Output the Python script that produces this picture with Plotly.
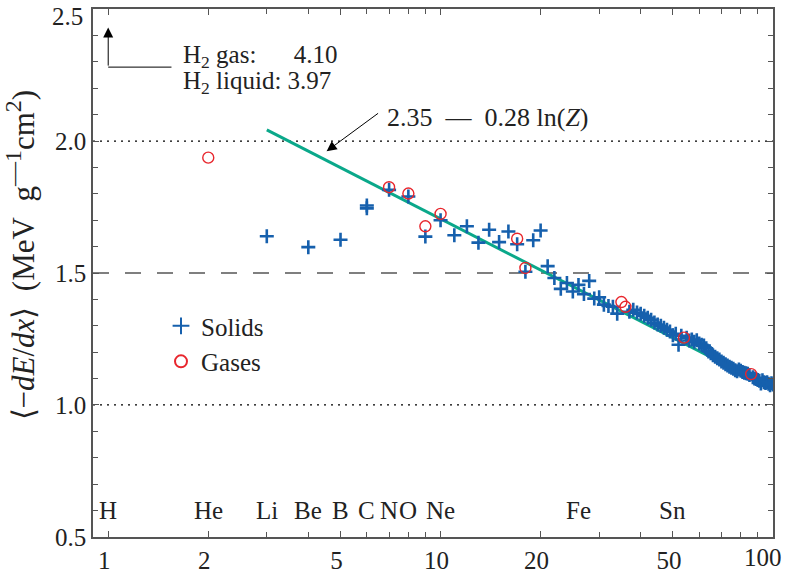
import numpy as np
import plotly.graph_objects as go

# ---- data ----
solid_z = [3, 4, 5, 6, 6, 7, 8, 9, 10, 11, 12, 13, 14, 15, 16, 17, 18, 19, 20,
           21, 22, 23, 24, 25, 26, 27, 28, 29, 30, 31, 32, 33, 34,
           37, 38, 39, 40, 41, 42, 43, 44, 45, 46, 47, 48, 49, 50, 51, 52, 53,
           55, 56, 57, 58, 59, 60, 61, 62, 63, 64, 65, 66, 67, 68, 69, 70,
           71, 72, 73, 74, 75, 76, 77, 78, 79, 80, 81, 82, 83, 84, 85,
           87, 88, 89, 90, 91, 92, 93, 94, 95, 96, 97, 98, 99, 100]
solid_v = [1.639, 1.598, 1.626, 1.745, 1.756, 1.815, 1.790, 1.638, 1.700, 1.643,
           1.677, 1.615, 1.664, 1.617, 1.657, 1.609, 1.505, 1.624, 1.661,
           1.526, 1.481, 1.440, 1.462, 1.430, 1.455, 1.420, 1.470, 1.403, 1.408,
           1.380, 1.375, 1.372, 1.346,
           1.353, 1.361, 1.350, 1.346, 1.338, 1.330, 1.323, 1.312, 1.305, 1.300,
           1.293, 1.285, 1.278, 1.264, 1.270, 1.228, 1.262,
           1.255, 1.244, 1.248, 1.240, 1.245, 1.233, 1.228, 1.225, 1.215, 1.203,
           1.196, 1.188, 1.183, 1.177, 1.172, 1.165,
           1.160, 1.154, 1.150, 1.145, 1.141, 1.137, 1.132, 1.128, 1.134, 1.130,
           1.125, 1.122, 1.120, 1.118, 1.114,
           1.105, 1.100, 1.098, 1.095, 1.092, 1.081, 1.094, 1.086, 1.083, 1.086,
           1.080, 1.075, 1.082, 1.078]

gas_z = [2, 7, 8, 9, 10, 17, 18, 35, 36, 54, 86]
gas_v = [1.937, 1.825, 1.801, 1.677, 1.724, 1.630, 1.519, 1.390, 1.372, 1.255, 1.117]

elem_names = ["H", "He", "Li", "Be", "B", "C", "N", "O", "Ne", "Fe", "Sn"]
elem_z = [1, 2, 3, 4, 5, 6, 7, 8, 10, 26, 50]

fit_a, fit_b = 2.35, 0.28
fit_z = [3, 100]

h2_gas, h2_liq = 4.10, 3.97

x_ticks = [1, 2, 5, 10, 20, 50, 100]
x_ticktext = ["1", "2", "5", "10", "20", "50", ""]
x_minor = [3, 4, 6, 7, 8, 9, 30, 40, 60, 70, 80, 90]
y_ticks = [0.5, 1.0, 1.5, 2.0, 2.5]
y_ticktext = ["0.5", "1.0", "1.5", "2.0", ""]

# ---- styles ----
FONT = "Liberation Serif"
BLUE = "#1660ad"
RED = "#e8262d"
GREEN = "#0aa88a"
AX = "#555555"
TXT = "#222222"
FS = 25

fig = go.Figure()

fit_v = [fit_a - fit_b * np.log(z) for z in fit_z]
fig.add_trace(go.Scatter(x=fit_z, y=fit_v, mode="lines",
                         line=dict(color=GREEN, width=3), showlegend=False,
                         hoverinfo="skip"))

fig.add_trace(go.Scatter(x=solid_z, y=solid_v, mode="markers", name="Solids",
                         marker=dict(symbol="cross-thin", size=10,
                                     line=dict(color=BLUE, width=2.6), color=BLUE)))
fig.add_trace(go.Scatter(x=gas_z, y=gas_v, mode="markers", name="Gases",
                         marker=dict(symbol="circle-open", size=11,
                                     line=dict(color=RED, width=1.4), color=RED)))

# connector line of the H2 arrow
fig.add_trace(go.Scatter(x=[1, 1.55], y=[2.28, 2.28], mode="lines",
                         line=dict(color="black", width=1), showlegend=False,
                         hoverinfo="skip"))

# reference lines
for yv, dash in [(2.0, "2px,5px"), (1.5, "16px,16px"), (1.0, "2px,5px")]:
    fig.add_shape(type="line", xref="paper", x0=0, x1=1, yref="y", y0=yv, y1=yv,
                  line=dict(color="black", width=1.2, dash=dash), layer="below")

ann = []
# element labels
for name, z in zip(elem_names, elem_z):
    ann.append(dict(x=np.log10(z), y=0.6, text=name, showarrow=False,
                    font=dict(family=FONT, size=FS, color=TXT),
                    xanchor="center", yanchor="middle"))
# end tick labels kept inside the page like the reference
ann.append(dict(xref="paper", x=-0.012, y=2.47, text="2.5", showarrow=False,
                xanchor="right", yanchor="middle",
                font=dict(family=FONT, size=FS, color=TXT)))
ann.append(dict(xref="paper", yref="paper", x=1.0165, y=-0.039, text="100",
                showarrow=False, xanchor="right", yanchor="middle",
                font=dict(family=FONT, size=FS, color=TXT)))
# H2 arrow
ann.append(dict(x=0, y=2.43, ax=0, ay=2.28, axref="x", ayref="y", text="",
                showarrow=True, arrowhead=2, arrowsize=2, arrowwidth=1,
                arrowcolor="black"))
ann.append(dict(x=np.log10(1.66), y=2.32, xanchor="left", yanchor="middle",
                showarrow=False,
                text="H<sub>2</sub> gas:\u00a0\u00a0\u00a0\u00a0\u00a0 %.2f" % h2_gas,
                font=dict(family=FONT, size=FS, color=TXT)))
ann.append(dict(x=np.log10(1.66), y=2.222, xanchor="left", yanchor="middle",
                showarrow=False,
                text="H<sub>2</sub> liquid: %.2f" % h2_liq,
                font=dict(family=FONT, size=FS, color=TXT)))
# fit arrow
ann.append(dict(x=np.log10(4.54), y=fit_a - fit_b * np.log(4.54) + 0.035,
                ax=53, ay=-39, text="", showarrow=True, arrowhead=2,
                arrowsize=2, arrowwidth=1, arrowcolor="black"))
ann.append(dict(x=np.log10(6.8), y=2.09, xanchor="left", yanchor="middle",
                showarrow=False,
                text="%.2f\u00a0\u00a0\u2014\u00a0\u00a0%.2f ln(<i>Z</i>)" % (fit_a, fit_b),
                font=dict(family=FONT, size=26, color=TXT)))
# y title
ann.append(dict(xref="paper", yref="paper", x=-0.106, y=0.535, textangle=-90,
                showarrow=False, xanchor="center", yanchor="middle",
                text="\u27e8\u2212<i>dE</i>/<i>dx</i>\u27e9\u00a0\u00a0(MeV\u00a0\u00a0g"
                     "<sup><span style='font-size:24px'>\u20141</span></sup>"
                     "cm<sup><span style='font-size:24px'>2</span></sup>)",
                font=dict(family=FONT, size=31, color=TXT)))

fig.update_layout(
    width=788, height=581,
    margin=dict(l=93, r=15, t=7, b=40),
    paper_bgcolor="white", plot_bgcolor="white",
    font=dict(family=FONT, size=FS, color=TXT),
    annotations=ann,
    legend=dict(x=0.10, y=0.443, xanchor="left", yanchor="top",
                bgcolor="rgba(0,0,0,0)", font=dict(family=FONT, size=FS),
                tracegroupgap=0, itemsizing="constant"),
)
fig.update_xaxes(type="log", range=[np.log10(0.9), 2.0002], showgrid=False,
                 zeroline=False, showline=True, linecolor=AX, linewidth=1.5,
                 mirror="ticks", ticks="inside", ticklen=6, tickcolor=AX,
                 tickvals=x_ticks, ticktext=x_ticktext, ticklabelshift=-4,
                 tickfont=dict(family=FONT, size=FS, color=TXT),
                 minor=dict(tickvals=x_minor, ticks="inside", ticklen=5,
                            tickcolor=AX, showgrid=False))
fig.update_yaxes(range=[0.4998, 2.5002], showgrid=False, zeroline=False,
                 showline=True, linecolor=AX, linewidth=1.5, mirror="ticks",
                 ticks="inside", ticklen=6, tickcolor=AX,
                 tickvals=y_ticks, ticktext=y_ticktext,
                 tickfont=dict(family=FONT, size=FS, color=TXT),
                 minor=dict(dtick=0.1, ticks="inside", ticklen=5,
                            tickcolor=AX, showgrid=False))

fig.write_html("out.html", config={"displayModeBar": False},
               post_script="document.body.style.margin='0px';")
